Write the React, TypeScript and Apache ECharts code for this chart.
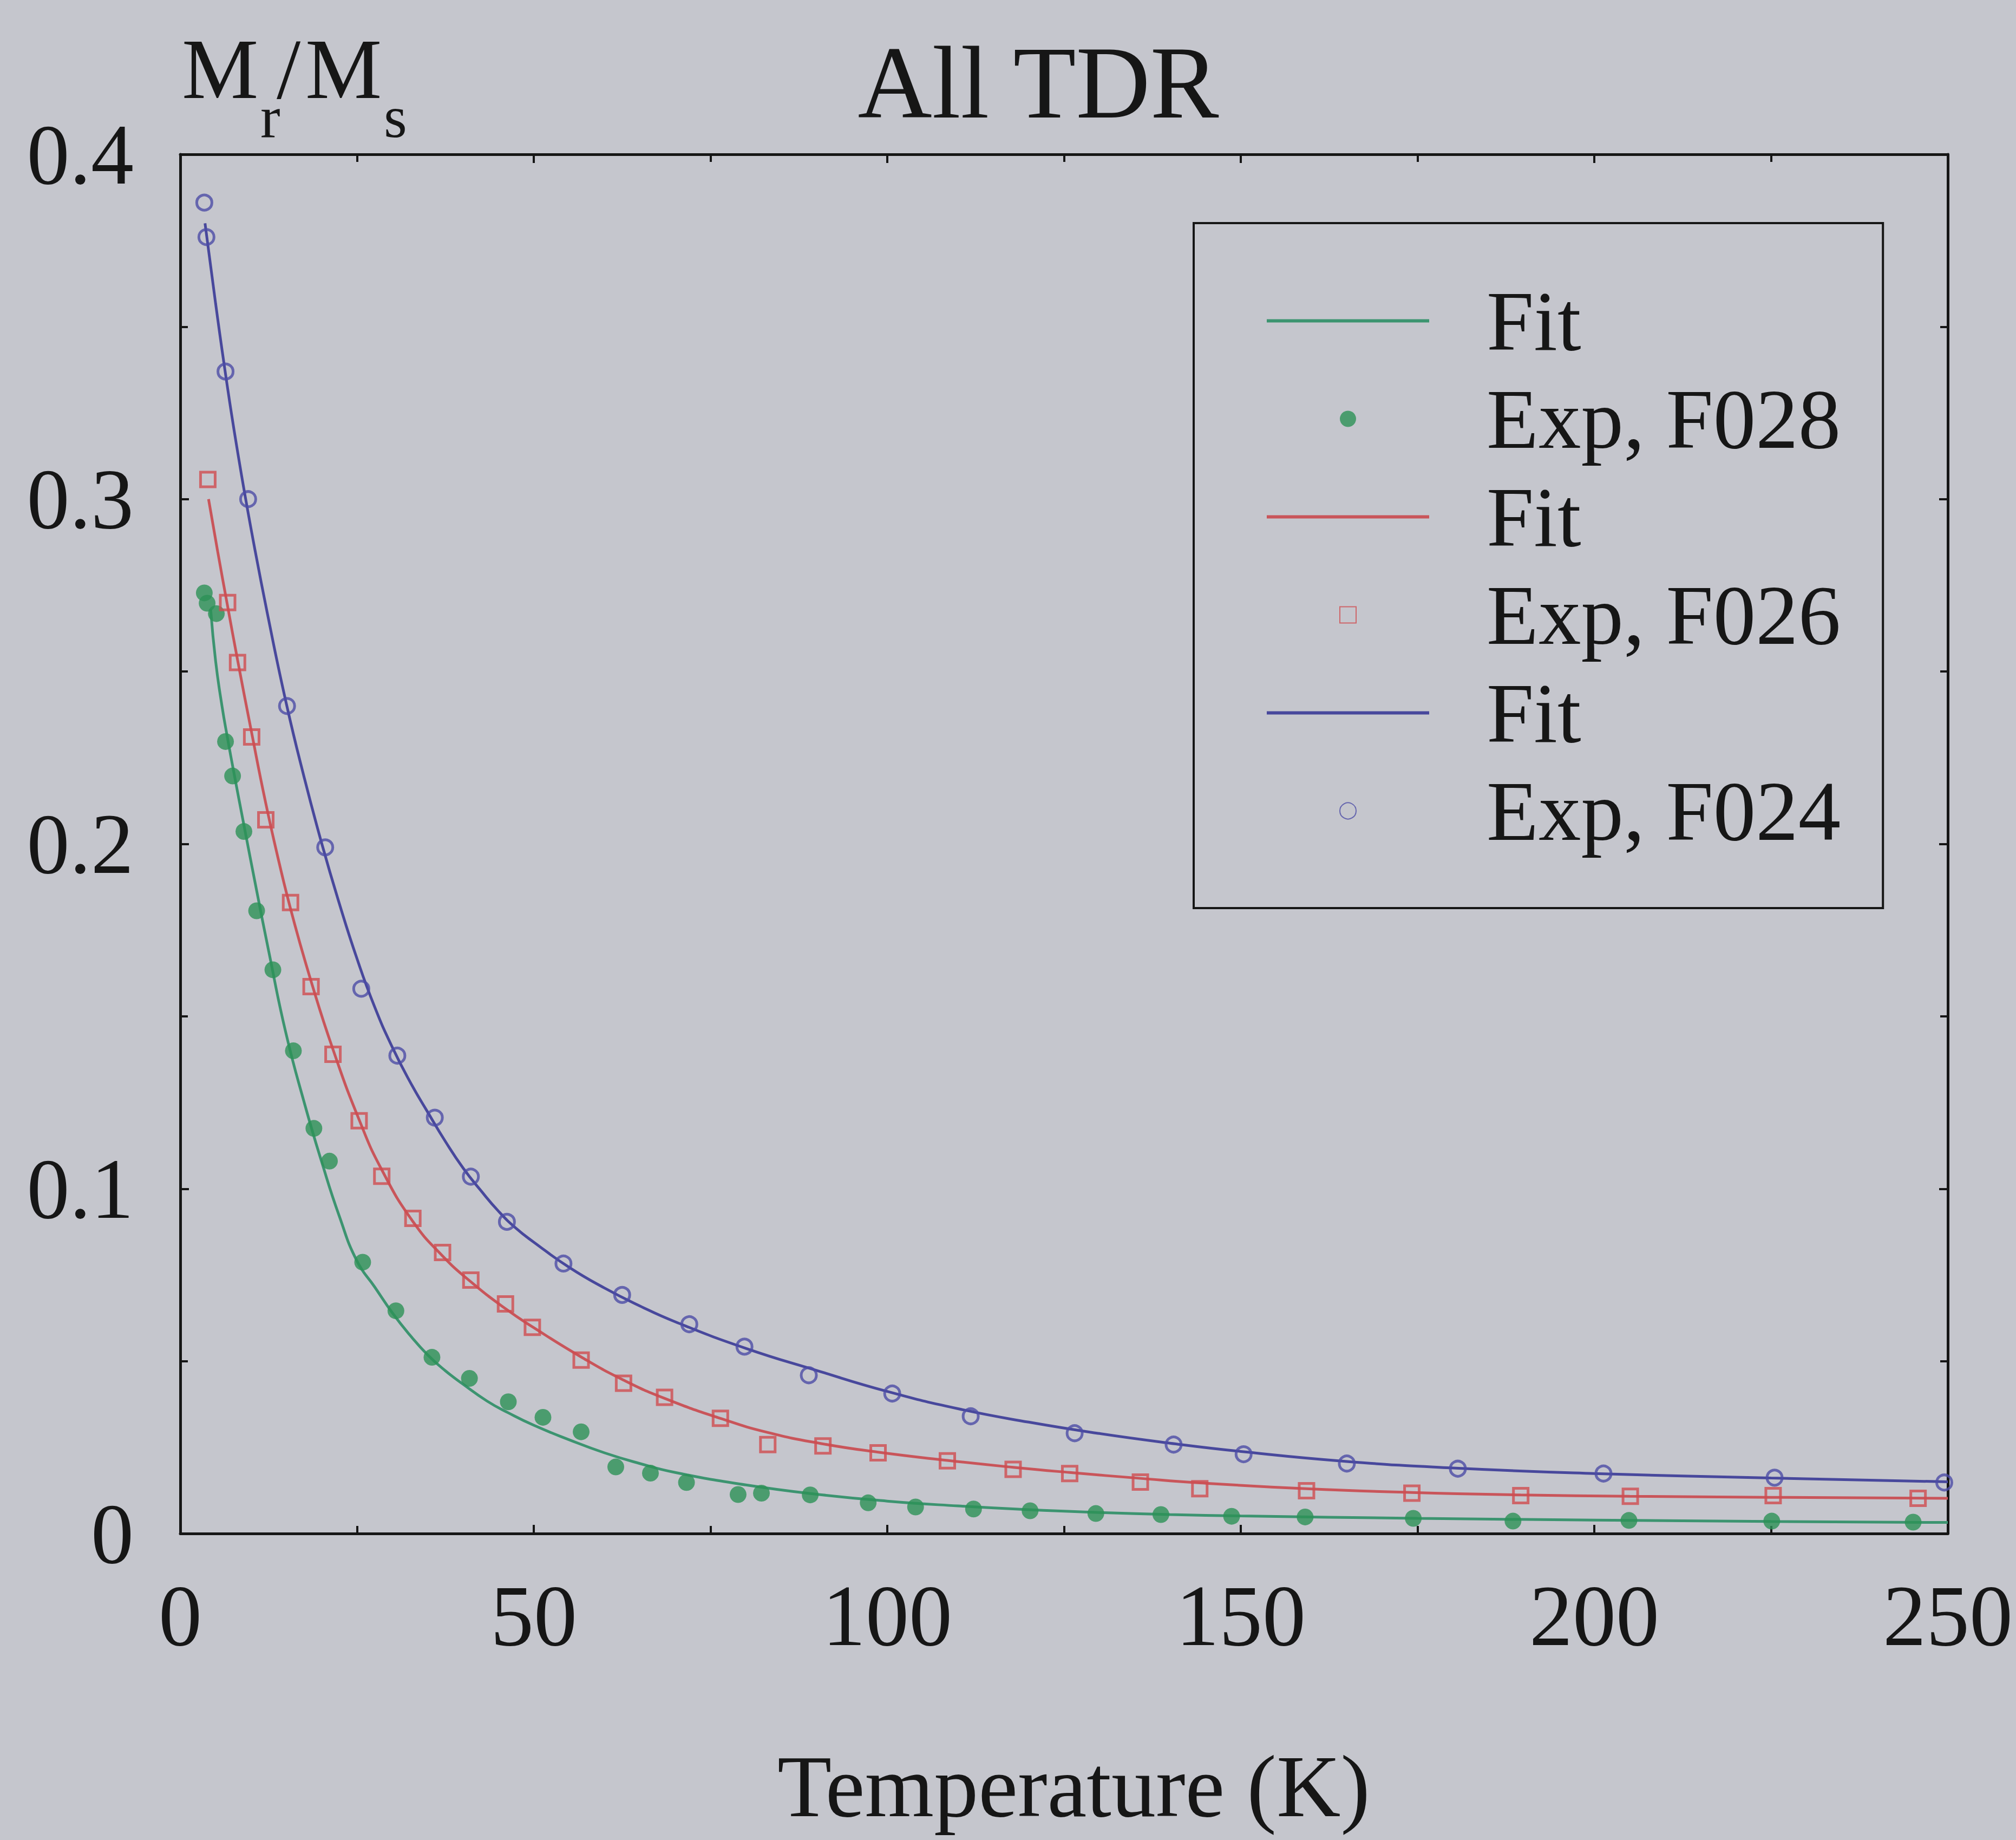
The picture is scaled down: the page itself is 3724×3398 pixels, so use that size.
import React, { useEffect, useRef } from "react";
import * as echarts from "echarts";

const FONT = "'Liberation Serif', 'Times New Roman', serif";
const INK = "#161616";
const BG = "#c5c6cd";
const GREEN = "#2c9156";
const GREEN_LINE = "#3c9470";
const RED = "#d04c50";
const RED_LINE = "#c9555a";
const BLUE = "#4c4ca6";
const BLUE_LINE = "#48489c";

// Axis ticks
const xTicks = [0, 50, 100, 150, 200, 250];
const yTicks = [0, 0.1, 0.2, 0.3, 0.4];

// F028 (green) experimental points
const greenExpT = [3.4, 3.8, 5.1, 6.4, 7.4, 9.0, 10.8, 13.1, 16.0, 18.9, 21.1, 25.8, 30.5, 35.6, 40.9, 46.4, 51.3, 56.7, 61.6, 66.5, 71.6, 78.9, 82.2, 89.1, 97.3, 104, 112.2, 120.2, 129.5, 138.7, 148.7, 159.1, 174.4, 188.5, 204.9, 225.1, 245.1];
const greenExpM = [0.2728, 0.2698, 0.2668, 0.2297, 0.2197, 0.2036, 0.1806, 0.1635, 0.140, 0.1175, 0.108, 0.0787, 0.0646, 0.0511, 0.0450, 0.0382, 0.0337, 0.0295, 0.0193, 0.0175, 0.0148, 0.0113, 0.0117, 0.0112, 0.0089, 0.0077, 0.0071, 0.0066, 0.0058, 0.0055, 0.0050, 0.0048, 0.0044, 0.0036, 0.0038, 0.0036, 0.0033];
// F028 fit
const greenFitT = [4.3, 5.0, 5.9, 6.7, 7.6, 9.0, 10.8, 12.5, 14.9, 17.6, 20, 22.5, 25, 27.5, 30, 32.5, 35, 37.5, 40, 43.4, 46.4, 50, 55, 60, 65, 70, 80, 90, 100, 110, 120, 130, 140, 150, 175, 200, 225, 250];
const greenFitM = [0.268, 0.253, 0.240, 0.2305, 0.2205, 0.2055, 0.1865, 0.1690, 0.1455, 0.1245, 0.1078, 0.0920, 0.0790, 0.0715, 0.0640, 0.0575, 0.0518, 0.0472, 0.0433, 0.0384, 0.0350, 0.0314, 0.0272, 0.0234, 0.0203, 0.0177, 0.0141, 0.0114, 0.0094, 0.0080, 0.0069, 0.0061, 0.0055, 0.0051, 0.0044, 0.0039, 0.0035, 0.0032];

// F026 (red) experimental points
const redExpT = [3.9, 6.7, 8.1, 10.1, 12.1, 15.6, 18.5, 21.6, 25.3, 28.5, 32.9, 37.1, 41.1, 46, 49.8, 56.7, 62.7, 68.5, 76.4, 83.1, 90.9, 98.7, 108.5, 117.8, 125.8, 135.8, 144.2, 159.3, 174.2, 189.6, 205.1, 225.3, 245.8];
const redExpM = [0.3057, 0.270, 0.2526, 0.231, 0.207, 0.183, 0.1586, 0.139, 0.1197, 0.1036, 0.0914, 0.0815, 0.0735, 0.0666, 0.0598, 0.0503, 0.0436, 0.0395, 0.0334, 0.0258, 0.0254, 0.0234, 0.0211, 0.0186, 0.0174, 0.0149, 0.0130, 0.0124, 0.0117, 0.0110, 0.0108, 0.0110, 0.0102];
// F026 fit
const redFitT = [4.0, 5.3, 6.7, 8.1, 10.1, 12.0, 14.0, 16.0, 18.5, 21.6, 25.3, 28.5, 32.9, 37.1, 41.1, 46, 50, 56.7, 62.7, 68.5, 76.4, 83.1, 90.9, 98.7, 108.5, 117.8, 125.8, 135.8, 144.2, 159.3, 174.2, 189.6, 205, 225, 250];
const redFitM = [0.300, 0.2847, 0.2689, 0.2534, 0.2322, 0.2127, 0.1944, 0.1781, 0.1602, 0.1404, 0.1200, 0.1055, 0.0905, 0.0805, 0.0730, 0.0652, 0.0597, 0.0512, 0.0445, 0.0392, 0.0334, 0.0293, 0.0260, 0.0236, 0.0212, 0.0192, 0.0177, 0.0160, 0.0147, 0.0130, 0.0119, 0.0112, 0.0108, 0.0105, 0.0102];

// F024 (blue) experimental points
const blueExpT = [3.4, 3.7, 6.4, 9.6, 15.1, 20.5, 25.6, 30.7, 36, 41.1, 46.2, 54.2, 62.5, 72, 79.8, 88.9, 100.7, 111.8, 126.5, 140.5, 150.4, 165, 180.7, 201.3, 225.5, 249.5];
const blueExpM = [0.386, 0.376, 0.337, 0.300, 0.240, 0.199, 0.158, 0.1386, 0.1206, 0.1035, 0.0904, 0.0783, 0.0692, 0.0607, 0.0542, 0.0459, 0.0406, 0.0340, 0.0291, 0.0258, 0.0230, 0.0203, 0.0188, 0.0174, 0.0162, 0.0148];
// F024 fit
const blueFitT = [3.5, 5, 6.5, 8, 10, 12.5, 15, 17.5, 20, 22.5, 25, 27.5, 30, 32.5, 35, 37.5, 40, 42.5, 45, 47.5, 50, 55, 60, 65, 70, 80, 90, 100, 110, 120, 130, 140, 150, 165, 180, 200, 225, 250];
const blueFitM = [0.380, 0.3567, 0.3349, 0.3151, 0.2915, 0.2650, 0.2407, 0.2195, 0.2002, 0.1827, 0.1667, 0.1527, 0.1410, 0.1310, 0.1222, 0.1137, 0.1060, 0.0995, 0.0935, 0.0885, 0.0845, 0.0772, 0.0712, 0.0660, 0.0614, 0.0537, 0.0473, 0.0412, 0.0362, 0.0323, 0.0290, 0.0262, 0.0238, 0.0209, 0.0190, 0.0174, 0.0161, 0.0150];

const zip = (xs: number[], ys: number[]) => xs.map((x, i) => [x, ys[i]]);

const LINE_ICON = "path://M0,0H100V2H0Z";
const SQUARE_ICON = "path://M0,0H10V10H0Z";

export default function App() {
  const ref = useRef<HTMLDivElement>(null);

  useEffect(() => {
    document.body.style.margin = "0";
    document.body.style.background = BG;
    const chart = echarts.init(ref.current!, null, { renderer: "svg" });

    const axisLine = { show: true, onZero: false, lineStyle: { color: INK, width: 5 } };
    const tick = { show: true, inside: true, length: 16, lineStyle: { color: INK, width: 4 } };
    const minor = { show: true, splitNumber: 2, length: 14, lineStyle: { color: INK, width: 4 } };

    const fitLine = (name: string, data: number[][], color: string) => ({
      name,
      type: "line",
      data,
      symbol: "none",
      smooth: 0.5,
      lineStyle: { color, width: 5 },
      itemStyle: { color, borderWidth: 0 },
      z: 2,
    });

    chart.setOption({
      animation: false,
      backgroundColor: BG,
      textStyle: { fontFamily: FONT },
      grid: { left: 333, right: 126, top: 285, bottom: 566, containLabel: false },
      xAxis: [
        {
          type: "value",
          min: xTicks[0],
          max: xTicks[xTicks.length - 1],
          interval: 50,
          position: "bottom",
          name: "Temperature (K)",
          nameLocation: "middle",
          nameGap: 384,
          nameTextStyle: { fontFamily: FONT, fontSize: 164, color: INK, padding: [0, 0, 0, 36] },
          axisLine,
          axisTick: tick,
          minorTick: minor,
          splitLine: { show: false },
          axisLabel: { fontFamily: FONT, fontSize: 160, color: INK, margin: 72 },
        },
        {
          type: "value",
          min: xTicks[0],
          max: xTicks[xTicks.length - 1],
          interval: 50,
          position: "top",
          axisLine,
          axisTick: tick,
          minorTick: minor,
          splitLine: { show: false },
          axisLabel: { show: false },
        },
      ],
      yAxis: [
        {
          type: "value",
          min: yTicks[0],
          max: yTicks[yTicks.length - 1],
          interval: 0.1,
          position: "left",
          axisLine,
          axisTick: tick,
          minorTick: minor,
          splitLine: { show: false },
          axisLabel: { fontFamily: FONT, fontSize: 158, color: INK, margin: 86 },
        },
        {
          type: "value",
          min: yTicks[0],
          max: yTicks[yTicks.length - 1],
          interval: 0.1,
          position: "right",
          axisLine,
          axisTick: tick,
          minorTick: minor,
          splitLine: { show: false },
          axisLabel: { show: false },
        },
      ],
      legend: {
        orient: "vertical",
        left: 2205,
        top: 412,
        padding: [102, 78, 101, 135],
        itemWidth: 300,
        itemHeight: 30,
        itemGap: 24,
        borderColor: INK,
        borderWidth: 4,
        backgroundColor: "transparent",
        selectedMode: false,
        textStyle: { fontFamily: FONT, fontSize: 157, color: INK, lineHeight: 157, padding: [0, 0, 0, 101] },
        formatter: (name: string) => (name.indexOf("Fit") === 0 ? "Fit" : name),
        data: [
          { name: "Fit F028", icon: LINE_ICON },
          { name: "Exp, F028", icon: "circle" },
          { name: "Fit F026", icon: LINE_ICON },
          { name: "Exp, F026", icon: SQUARE_ICON },
          { name: "Fit F024", icon: LINE_ICON },
          { name: "Exp, F024", icon: "circle" },
        ],
      },
      graphic: [
        { type: "text", x: 1918, y: 153, style: { text: "All TDR", font: `190px ${FONT}`, fill: INK, align: "center", verticalAlign: "middle" } },
        { type: "text", x: 336, y: 127, style: { text: "M", font: `159px ${FONT}`, fill: INK, align: "left", verticalAlign: "middle" } },
        { type: "text", x: 481, y: 216, style: { text: "r", font: `110px ${FONT}`, fill: INK, align: "left", verticalAlign: "middle" } },
        { type: "text", x: 511, y: 127, style: { text: "/", font: `159px ${FONT}`, fill: INK, align: "left", verticalAlign: "middle" } },
        { type: "text", x: 564, y: 127, style: { text: "M", font: `159px ${FONT}`, fill: INK, align: "left", verticalAlign: "middle" } },
        { type: "text", x: 709, y: 216, style: { text: "s", font: `110px ${FONT}`, fill: INK, align: "left", verticalAlign: "middle" } },
      ],
      series: [
        fitLine("Fit F028", zip(greenFitT, greenFitM), GREEN_LINE),
        {
          name: "Exp, F028",
          type: "scatter",
          data: zip(greenExpT, greenExpM),
          symbol: "circle",
          symbolSize: 31,
          itemStyle: { color: GREEN, borderWidth: 0 },
          z: 3,
        },
        fitLine("Fit F026", zip(redFitT, redFitM), RED_LINE),
        {
          name: "Exp, F026",
          type: "scatter",
          data: zip(redExpT, redExpM),
          symbol: "rect",
          symbolSize: 27,
          itemStyle: { color: "rgba(0,0,0,0)", borderColor: RED, borderWidth: 5 },
          z: 3,
        },
        fitLine("Fit F024", zip(blueFitT, blueFitM), BLUE_LINE),
        {
          name: "Exp, F024",
          type: "scatter",
          data: zip(blueExpT, blueExpM),
          symbol: "circle",
          symbolSize: 28,
          itemStyle: { color: "rgba(0,0,0,0)", borderColor: BLUE, borderWidth: 5 },
          z: 3,
        },
      ],
    });

    return () => chart.dispose();
  }, []);

  return <div ref={ref} style={{ position: "absolute", left: 0, top: 0, width: 3724, height: 3398 }} />;
}
